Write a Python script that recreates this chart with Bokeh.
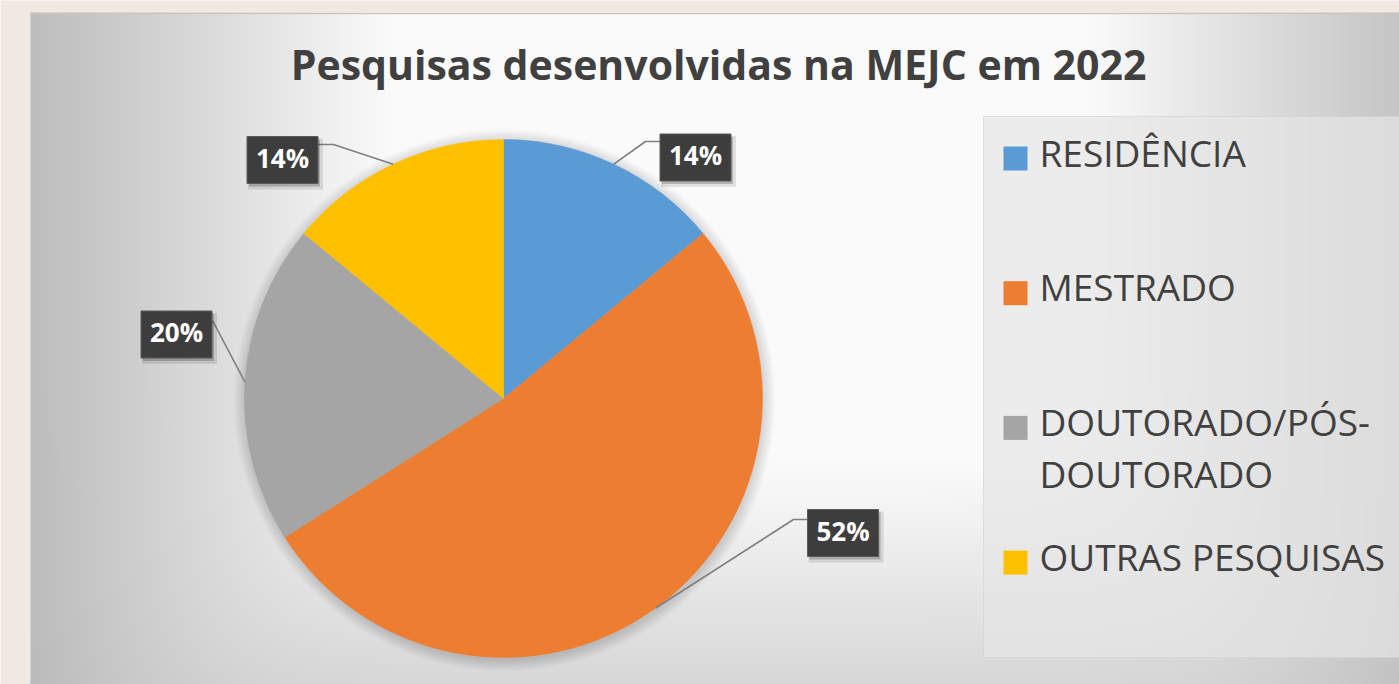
import numpy as np
from bokeh.plotting import figure
from bokeh.models import Range1d, ColumnDataSource
from bokeh.core.properties import value
from bokeh.embed import file_html
from bokeh.resources import INLINE

# ---------------- data ----------------
title = "Pesquisas desenvolvidas na MEJC em 2022"
categories = ["RESIDÊNCIA", "MESTRADO", "DOUTORADO/PÓS-DOUTORADO", "OUTRAS PESQUISAS"]
values = [14, 52, 20, 14]
colors = ["#5b9bd5", "#ed7d31", "#a5a5a5", "#ffc000"]

# ---------------- layout helpers (screen px -> data) ----------------
W, H = 1399, 684
OFF = 0
def X(sx):
    return sx - OFF
def Y(sy):
    return H - (sy - OFF)

FONT = "Open Sans"
BG = "#f0e8e3"

p = figure(width=W, height=H, x_range=Range1d(0, W), y_range=Range1d(0, H),
           output_backend="svg", toolbar_location=None, min_border=0,
           background_fill_color=BG, border_fill_color=BG, outline_line_color=None)
p.axis.visible = False
p.grid.visible = False

# ---------------- chart area gradient background ----------------
sx0, sy0, sx1, sy1 = 30, 13, 1399, 684
f = 2
nx = (sx1 - sx0) // f + 1
ny = (sy1 - sy0) // f + 1
gx = sx0 + (np.arange(nx) + 0.5) * f
gy = sy1 - (np.arange(ny) + 0.5) * f
GX, GY = np.meshgrid(gx, gy)
dx = np.abs(GX - 740.0)
dy = np.abs(GY - 100.0) * 0.95
t = (dx ** 8 + dy ** 8) ** (1 / 8)
v = np.clip(250 - np.clip(t - 350, 0, None) * 0.17, 0, 255).astype(np.uint8)
img = np.empty((ny, nx), dtype=np.uint32)
view = img.view(dtype=np.uint8).reshape((ny, nx, 4))
view[:, :, 0] = v
view[:, :, 1] = v
view[:, :, 2] = v
view[:, :, 3] = 255
p.image_rgba(image=[img], x=X(sx0), y=Y(sy1), dw=nx * f, dh=ny * f)
p.segment(x0=[X(sx0)], y0=[Y(sy0)], x1=[W], y1=[Y(sy0)], line_color="#cbc5c1", line_width=1.5)

# ---------------- title ----------------
p.text(x=[X(718)], y=[Y(63.5)], text=[title], text_font=value(FONT), text_font_style="bold",
       text_font_size="41px", text_color="#404040", text_align="center", text_baseline="middle")

# ---------------- pie ----------------
cx, cy, R = X(503), Y(398), 259
for k in range(1, 13):
    p.circle(x=[cx + 1], y=[cy - 2], radius=R + k, fill_color="black", fill_alpha=0.012, line_color=None)

vals = np.array(values, dtype=float)
frac = vals / vals.sum()
cum = np.concatenate([[0.0], np.cumsum(frac)])
start = np.pi / 2 - 2 * np.pi * cum[:-1]
end = np.pi / 2 - 2 * np.pi * cum[1:]
src = ColumnDataSource(dict(start=start, end=end, color=colors, cat=categories))
p.wedge(x=cx, y=cy, radius=R, start_angle="start", end_angle="end", direction="clock",
        fill_color="color", line_color="color", line_width=0.5, source=src)

# ---------------- data labels ----------------
mid = (start + end) / 2
edge_x = cx + R * np.cos(mid)
edge_y = cy + R * np.sin(mid)
label_centers = [(695, 157), (842.5, 532.5), (176, 334), (282, 159.5)]   # screen px
leader_via = [[(645, 141), (660, 141)], [(793, 519), (807, 519)], [(212, 320)], [(333, 144), (318, 144)]]
box_w, box_h = 71, 47

lxs, lys = [], []
for i in range(len(values)):
    xs = [edge_x[i]] + [X(a) for a, b in leader_via[i]]
    ys = [edge_y[i]] + [Y(b) for a, b in leader_via[i]]
    lxs.append(xs)
    lys.append(ys)
p.multi_line(xs=lxs, ys=lys, line_color="#7f7f7f", line_width=1.6)

bx = [X(a) for a, b in label_centers]
by = [Y(b) for a, b in label_centers]
pct = [f"{round(fr * 100)}%" for fr in frac]
p.rect(x=[x + 3 for x in bx], y=[y - 4 for y in by], width=box_w + 4, height=box_h + 4,
       fill_color="black", fill_alpha=0.10, line_color=None)
p.rect(x=[x + 2 for x in bx], y=[y - 3 for y in by], width=box_w, height=box_h,
       fill_color="black", fill_alpha=0.20, line_color=None)
p.rect(x=bx, y=by, width=box_w, height=box_h, fill_color="#3d3d3d", line_color="#5a5a5a", line_width=1)
p.text(x=bx, y=[y + 2.5 for y in by], text=pct, text_font=value(FONT), text_font_style="bold",
       text_font_size="26px", text_color="white", text_align="center", text_baseline="middle")

# ---------------- legend ----------------
p.quad(left=[X(983)], right=[W + 2], top=[Y(116)], bottom=[Y(657)], fill_color="#e6e6e6",
       fill_alpha=0.7, line_color="#d2d2d2", line_alpha=0.6)

def wrap(label):
    if len(label) > 18 and "-" in label:
        k = label.index("-") + 1
        return [label[:k], label[k:]]
    return [label]

sq_l, sq_r, sq_t, sq_b = [], [], [], []
tx, ty, tt = [], [], []
for i, cat in enumerate(categories):
    base = 172 + 134.7 * i
    sq_l.append(X(1003)); sq_r.append(X(1027))
    sq_b.append(Y(base - 2)); sq_t.append(Y(base - 26))
    for j, line in enumerate(wrap(cat)):
        tx.append(X(1039)); ty.append(Y(base - 20.5 + 52 * j)); tt.append(line)
p.quad(left=sq_l, right=sq_r, top=sq_t, bottom=sq_b, fill_color=colors, line_color=None)
p.text(x=tx, y=ty, text=tt, text_font=value(FONT), text_font_size="37px", text_color="#404040",
       text_align="left", text_baseline="middle")

open("out.html", "w").write(file_html(p, INLINE))
